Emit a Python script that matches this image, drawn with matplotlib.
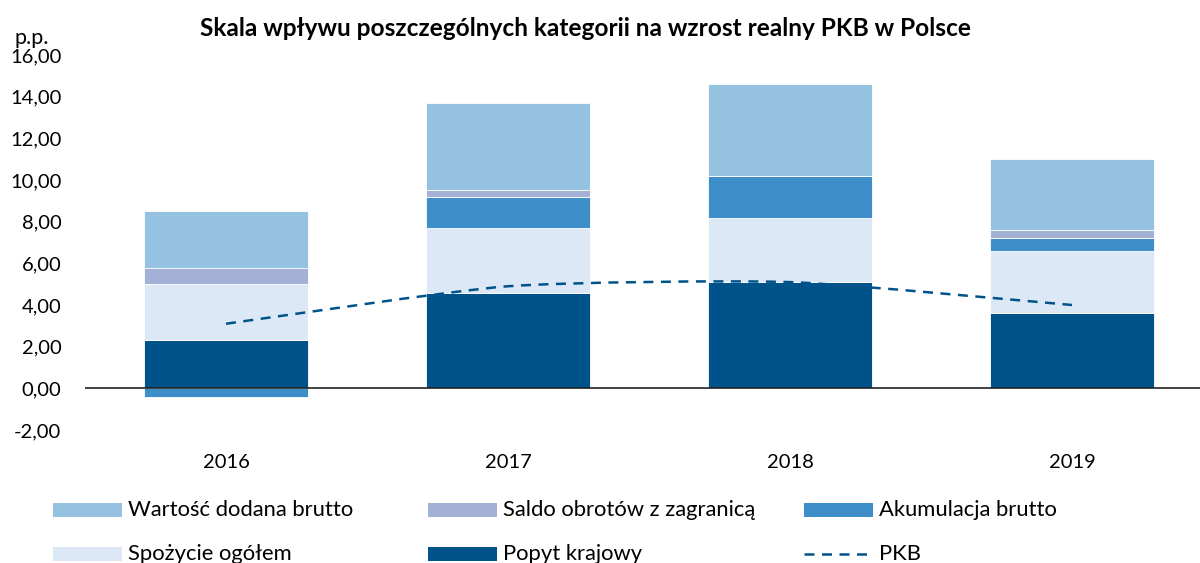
import matplotlib
matplotlib.use("Agg")
import matplotlib.pyplot as plt
import numpy as np
from matplotlib.path import Path
from matplotlib.patches import PathPatch, Rectangle
from matplotlib.lines import Line2D

plt.rcParams['font.family'] = ['Lato', 'DejaVu Sans']

years = ['2016', '2017', '2018', '2019']
popyt = [2.3, 4.6, 5.1, 3.6]
spozycie = [2.7, 3.1, 3.1, 3.0]
akumulacja = [-0.4, 1.5, 2.0, 0.6]
saldo = [0.8, 0.3, 0.0, 0.4]
wartosc = [2.7, 4.2, 4.4, 3.4]
pkb = [3.1, 4.9, 5.1, 4.0]
yticks = [-2, 0, 2, 4, 6, 8, 10, 12, 14, 16]

c_wartosc = '#94C2E0'
c_saldo = '#A4B1D6'
c_akum = '#3E8FC9'
c_spoz = '#DCE8F5'
c_popyt = '#00538A'

fig = plt.figure(figsize=(12, 5.63), dpi=100)
ax = fig.add_axes([85/1200, 1-430/563, 1115/1200, (430-55)/563])

x = np.arange(len(years))
w = 0.58
series = [(popyt, c_popyt), (spozycie, c_spoz), (akumulacja, c_akum),
          (saldo, c_saldo), (wartosc, c_wartosc)]
pos_base = np.zeros(len(years))
neg_base = np.zeros(len(years))
for vals, col in series:
    v = np.array(vals, dtype=float)
    bottoms = np.where(v >= 0, pos_base, neg_base)
    ax.bar(x, v, w, bottom=bottoms, color=col, edgecolor='white', linewidth=0.6, zorder=2)
    pos_base = pos_base + np.where(v >= 0, v, 0)
    neg_base = neg_base + np.where(v < 0, v, 0)

# smoothed PKB line (Bezier through the data points, low tension)
pts = np.column_stack([x, pkb]).astype(float)
verts = [tuple(pts[0])]
codes = [Path.MOVETO]
n = len(pts)
k = 10.0
for i in range(n - 1):
    p0 = pts[i - 1] if i > 0 else pts[i]
    p1 = pts[i]
    p2 = pts[i + 1]
    p3 = pts[i + 2] if i + 2 < n else pts[i + 1]
    c1 = p1 + (p2 - p0) / k
    c2 = p2 - (p3 - p1) / k
    verts += [tuple(c1), tuple(c2), tuple(p2)]
    codes += [Path.CURVE4] * 3
ax.add_patch(PathPatch(Path(verts, codes), fill=False, edgecolor=c_popyt,
                       linewidth=1.8, linestyle=(0, (4, 3)), zorder=3))

ax.axhline(0, color='#222222', linewidth=1.2, zorder=4)
ax.set_xlim(-0.5, 3.454)
ax.set_ylim(-2, 16)
ax.set_yticks(yticks)
ax.set_yticklabels([f"{t:.2f}".replace('.', ',') for t in yticks], fontsize=14.5)
ax.set_xticks(x)
ax.set_xticklabels(years, fontsize=14.5)
ax.tick_params(axis='both', length=0)
ax.tick_params(axis='y', pad=17)
ax.tick_params(axis='x', pad=17)
for s in ax.spines.values():
    s.set_visible(False)

fig.text(585/1200, 1-28/563, 'Skala wpływu poszczególnych kategorii na wzrost realny PKB w Polsce',
         ha='center', va='center', fontsize=17.6, fontweight='bold')
fig.text(14/1200, 1-38/563, 'p.p.', ha='left', va='center', fontsize=15.5)

# legend (manual, Excel-like fixed columns)
items = [
    ('Wartość dodana brutto', c_wartosc, 53, 510),
    ('Saldo obrotów z zagranicą', c_saldo, 428, 510),
    ('Akumulacja brutto', c_akum, 804, 510),
    ('Spożycie ogółem', c_spoz, 53, 554),
    ('Popyt krajowy', c_popyt, 428, 554),
]
for label, col, px, py in items:
    fig.patches.append(Rectangle((px/1200, 1-(py+7)/563), 69/1200, 14/563,
                                 transform=fig.transFigure, facecolor=col, edgecolor='none'))
    fig.text((px+75)/1200, 1-py/563, label, ha='left', va='center', fontsize=15.8)
fig.lines.append(Line2D([804/1200, 871/1200], [1-554/563, 1-554/563], transform=fig.transFigure,
                        color=c_popyt, linewidth=1.8, linestyle=(0, (4, 3))))
fig.text(879/1200, 1-554/563, 'PKB', ha='left', va='center', fontsize=15.8)

fig.savefig('out.png', dpi=100)
